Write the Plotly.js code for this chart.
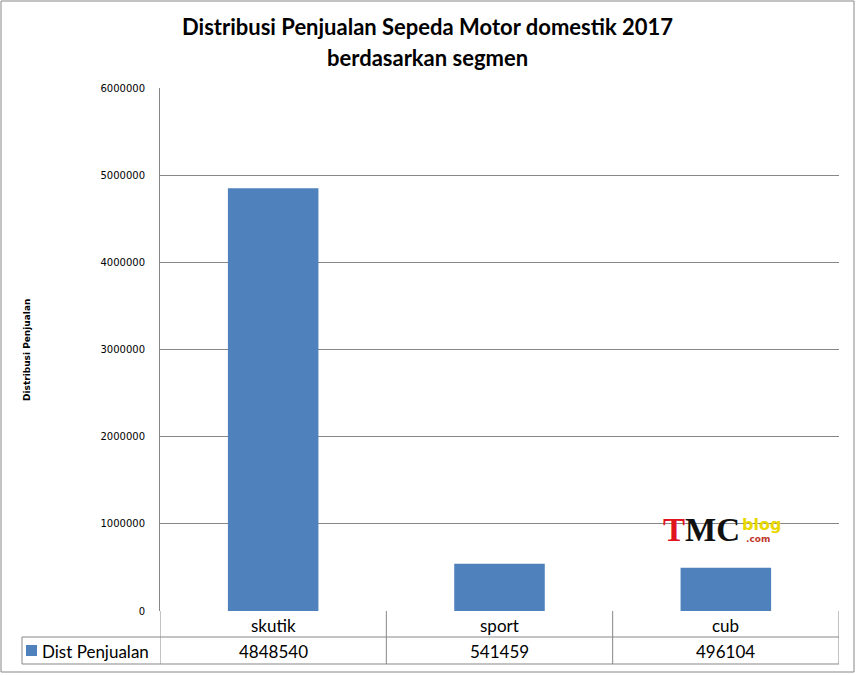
<!DOCTYPE html>
<html>
<head>
<meta charset="utf-8">
<script src="https://cdn.plot.ly/plotly-3.0.1.min.js"></script>
<style>
  html, body { margin: 0; padding: 0; background: #fff; }
  #chart { width: 856px; height: 675px; }
</style>
</head>
<body>
<div id="chart"></div>
<script>
var categories = ['skutik', 'sport', 'cub'];
var salesValues = [4848540, 541459, 496104];
var seriesName = 'Dist Penjualan';
var yTickValues = [0, 1000000, 2000000, 3000000, 4000000, 5000000, 6000000];
var titleLines = ['Distribusi Penjualan Sepeda Motor domestik 2017', 'berdasarkan segmen'];
var yTitle = 'Distribusi Penjualan';

var W = 856, H = 675;
var L = 160, R = 839, T = 88, B = 611;
// pixel -> paper helpers
function px(x) { return (x - L) / (R - L); }
function py(y) { return (B - y) / (B - T); }

var barColor = '#4F81BD';
var lineColor = '#878787';
var font = 'Lato, "Open Sans", sans-serif';

var data = [{
  type: 'bar',
  x: categories,
  y: salesValues,
  name: seriesName,
  marker: { color: barColor },
  width: 0.4,
  hoverinfo: 'x+y'
}];

var shapes = [];
var annotations = [];

function note(x, y, text, size, opts) {
  var a = { xref: 'paper', yref: 'paper', x: x, y: y, text: text, showarrow: false,
    xanchor: 'center', yanchor: 'middle',
    font: { family: font, size: size, color: '#000' } };
  for (var k in opts) a[k] = opts[k];
  annotations.push(a);
}

// outer chart border
shapes.push({ type: 'rect', xref: 'paper', yref: 'paper',
  x0: px(1), x1: px(854), y0: py(1), y1: py(672),
  line: { color: lineColor, width: 1 } });

// data table lines
var rowMid = 637, rowBot = 664;
shapes.push({ type: 'line', xref: 'paper', yref: 'paper', x0: px(22), x1: px(R), y0: py(rowMid), y1: py(rowMid), line: { color: lineColor, width: 1 } });
shapes.push({ type: 'line', xref: 'paper', yref: 'paper', x0: px(22), x1: px(R), y0: py(rowBot), y1: py(rowBot), line: { color: lineColor, width: 1 } });
shapes.push({ type: 'line', xref: 'paper', yref: 'paper', x0: px(22), x1: px(22), y0: py(rowMid), y1: py(rowBot), line: { color: lineColor, width: 1 } });
for (var i = 0; i <= categories.length; i++) {
  shapes.push({ type: 'line', xref: 'x', yref: 'paper', x0: i - 0.5, x1: i - 0.5,
    y0: py(B), y1: py(rowBot), line: { color: lineColor, width: 1 } });
}

// table text
categories.forEach(function (c, i) {
  note(i, py((B + rowMid) / 2 + 1), c, 17, { xref: 'x' });
  note(i, py((rowMid + rowBot) / 2 + 1), String(salesValues[i]), 17, { xref: 'x' });
});
// legend key in table
shapes.push({ type: 'rect', xref: 'paper', yref: 'paper',
  x0: px(26), x1: px(37), y0: py(645), y1: py(656),
  fillcolor: barColor, line: { width: 0 } });
note(px(40), py((rowMid + rowBot) / 2 + 1), seriesName, 17, { xanchor: 'left' });

// chart title
note(px(427), py(27), '<b>' + titleLines[0] + '</b>', 22, {});
note(px(427), py(57), '<b>' + titleLines[1] + '</b>', 22, {});

// y axis title
note(px(27), py(350), '<b>' + yTitle + '</b>', 9, { textangle: -90,
  font: { family: '"DejaVu Sans", sans-serif', size: 9, color: '#000' } });

// watermark
note(px(661), py(530), '<b><span style="color:#e0141c">T</span>MC</b>', 33, { xanchor: 'left',
  font: { family: '"Liberation Serif", serif', size: 33, color: '#111' } });
note(px(740), py(524), '<b>blog</b>', 16, { xanchor: 'left',
  font: { family: '"DejaVu Sans", sans-serif', size: 16, color: '#e8d800' } });
note(px(744), py(539), '<b>.com</b>', 9, { xanchor: 'left',
  font: { family: '"DejaVu Sans", sans-serif', size: 9, color: '#c0392b' } });

var layout = {
  width: W, height: H,
  margin: { l: L, r: W - R, t: T, b: H - B },
  paper_bgcolor: '#fff',
  plot_bgcolor: '#fff',
  showlegend: false,
  xaxis: {
    type: 'category',
    range: [-0.5, categories.length - 0.5],
    showticklabels: false,
    showgrid: false,
    ticks: '',
    showline: false,
    zeroline: false
  },
  yaxis: {
    range: [0, 6000000],
    tickvals: yTickValues,
    ticktext: yTickValues.map(function (v) { return String(v); }),
    showgrid: true,
    gridcolor: lineColor,
    gridwidth: 1,
    showline: true,
    linecolor: lineColor,
    linewidth: 1,
    zeroline: false,
    ticks: '',
    ticklabelstandoff: 12,
    tickfont: { family: '"DejaVu Sans", sans-serif', size: 10, color: '#000' }
  },
  shapes: shapes,
  annotations: annotations
};

Plotly.newPlot('chart', data, layout, { displayModeBar: false, staticPlot: true });
</script>
</body>
</html>
